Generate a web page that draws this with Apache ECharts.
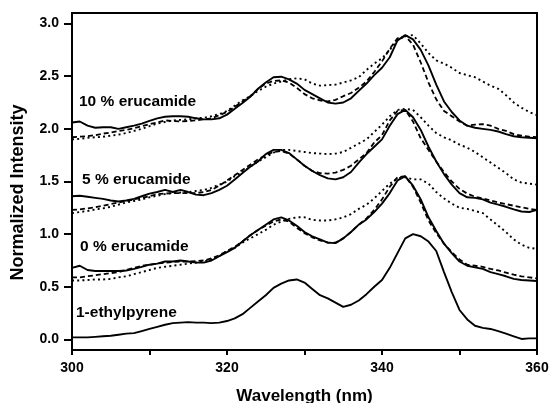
<!DOCTYPE html>
<html>
<head>
<meta charset="utf-8">
<script src="https://cdn.jsdelivr.net/npm/echarts@6/dist/echarts.min.js"></script>
<style>html,body{margin:0;padding:0;background:#fff;}#c{width:550px;height:403px;}</style>
</head>
<body>
<div id="c"></div>
<script>
// Wavelength grid (nm)
var wavelength = [];
for (var w = 300; w <= 360; w++) wavelength.push(w);

// 1-ethylpyrene (solid)
var ethylpyrene = [0.02,0.02,0.02,0.025,0.03,0.035,0.045,0.055,0.06,0.08,0.10,0.12,0.14,0.155,0.16,0.165,0.16,0.16,0.155,0.16,
  0.175,0.20,0.24,0.30,0.36,0.42,0.49,0.53,0.56,0.57,0.54,0.48,0.42,0.39,0.35,0.31,0.33,0.37,0.43,0.50,
  0.565,0.68,0.82,0.96,1.00,0.98,0.93,0.84,0.64,0.45,0.28,0.19,0.13,0.11,0.10,0.08,0.055,0.03,0.005,0.01,0.01];

// 0 % erucamide
var solid0 = [0.68,0.70,0.66,0.65,0.65,0.65,0.65,0.655,0.67,0.69,0.71,0.72,0.74,0.74,0.75,0.74,0.73,0.73,0.75,0.79,
  0.83,0.87,0.93,0.99,1.04,1.09,1.14,1.16,1.13,1.08,1.02,0.98,0.95,0.92,0.915,0.96,1.02,1.09,1.14,1.21,
  1.29,1.39,1.51,1.55,1.46,1.33,1.16,1.03,0.91,0.82,0.74,0.70,0.685,0.67,0.64,0.62,0.60,0.575,0.565,0.56,0.555];
var dashed0 = [0.59,0.59,0.60,0.61,0.62,0.63,0.64,0.66,0.68,0.70,0.71,0.72,0.73,0.735,0.74,0.74,0.745,0.75,0.77,0.80,
  0.84,0.88,0.93,0.99,1.04,1.08,1.12,1.14,1.12,1.06,1.01,0.97,0.94,0.92,0.92,0.96,1.02,1.09,1.15,1.23,
  1.33,1.45,1.54,1.55,1.45,1.30,1.13,1.01,0.91,0.83,0.76,0.71,0.70,0.69,0.67,0.655,0.635,0.615,0.60,0.59,0.58];
var dotted0 = [0.56,0.56,0.565,0.57,0.57,0.575,0.59,0.60,0.62,0.64,0.66,0.68,0.69,0.70,0.71,0.72,0.73,0.74,0.76,0.79,
  0.84,0.87,0.92,0.96,1.00,1.04,1.09,1.12,1.145,1.16,1.16,1.135,1.13,1.13,1.14,1.16,1.19,1.24,1.28,1.34,
  1.41,1.48,1.53,1.54,1.52,1.52,1.48,1.40,1.34,1.29,1.25,1.24,1.22,1.20,1.14,1.08,1.02,0.95,0.90,0.87,0.86];

// 5 % erucamide
var solid5 = [1.36,1.365,1.355,1.345,1.335,1.32,1.31,1.32,1.335,1.36,1.385,1.40,1.42,1.40,1.42,1.40,1.375,1.37,1.39,1.42,
  1.46,1.52,1.58,1.64,1.69,1.76,1.80,1.80,1.77,1.71,1.65,1.60,1.56,1.53,1.52,1.54,1.59,1.68,1.76,1.83,
  1.90,2.03,2.14,2.18,2.11,1.99,1.83,1.69,1.57,1.47,1.39,1.35,1.345,1.33,1.30,1.28,1.26,1.235,1.215,1.21,1.23];
var dashed5 = [1.23,1.235,1.245,1.255,1.27,1.285,1.30,1.315,1.33,1.345,1.36,1.38,1.385,1.39,1.39,1.39,1.39,1.40,1.42,1.46,
  1.51,1.56,1.61,1.66,1.71,1.75,1.78,1.79,1.765,1.71,1.65,1.60,1.58,1.575,1.585,1.61,1.65,1.71,1.77,1.87,
  1.94,2.08,2.17,2.18,2.07,1.91,1.80,1.69,1.59,1.50,1.43,1.385,1.355,1.34,1.32,1.30,1.285,1.27,1.255,1.24,1.23];
var dotted5 = [1.20,1.21,1.22,1.235,1.245,1.26,1.28,1.30,1.315,1.33,1.35,1.365,1.38,1.39,1.395,1.40,1.41,1.42,1.44,1.47,
  1.50,1.55,1.59,1.64,1.69,1.73,1.775,1.80,1.80,1.79,1.78,1.77,1.765,1.76,1.765,1.78,1.82,1.86,1.90,1.97,
  2.04,2.12,2.18,2.19,2.18,2.11,2.03,1.96,1.92,1.89,1.85,1.82,1.78,1.73,1.68,1.63,1.58,1.52,1.49,1.48,1.47];

// 10 % erucamide
var solid10 = [2.06,2.07,2.03,2.01,2.015,2.015,2.00,2.015,2.03,2.05,2.075,2.10,2.115,2.12,2.12,2.115,2.10,2.09,2.09,2.10,
  2.135,2.19,2.245,2.305,2.38,2.44,2.49,2.495,2.47,2.43,2.37,2.33,2.29,2.25,2.24,2.25,2.29,2.36,2.43,2.51,
  2.58,2.68,2.84,2.89,2.85,2.75,2.60,2.42,2.26,2.16,2.08,2.03,2.01,2.00,1.99,1.975,1.95,1.93,1.92,1.915,1.91];
var dashed10 = [1.92,1.925,1.93,1.94,1.955,1.965,1.98,1.99,2.005,2.025,2.045,2.06,2.08,2.075,2.07,2.075,2.08,2.09,2.10,2.13,
  2.16,2.21,2.26,2.31,2.38,2.43,2.455,2.46,2.44,2.39,2.33,2.29,2.27,2.26,2.275,2.31,2.34,2.39,2.45,2.54,
  2.64,2.76,2.86,2.88,2.80,2.63,2.44,2.28,2.17,2.12,2.07,2.03,2.04,2.045,2.03,2.00,1.98,1.95,1.935,1.925,1.92];
var dotted10 = [1.90,1.905,1.915,1.92,1.925,1.935,1.945,1.96,1.98,2.00,2.025,2.05,2.065,2.08,2.085,2.09,2.10,2.105,2.12,2.14,
  2.17,2.22,2.27,2.31,2.36,2.40,2.43,2.45,2.47,2.48,2.47,2.43,2.41,2.415,2.42,2.44,2.46,2.49,2.56,2.62,
  2.67,2.75,2.84,2.88,2.89,2.81,2.72,2.65,2.62,2.58,2.53,2.51,2.49,2.45,2.41,2.38,2.32,2.25,2.20,2.16,2.13];

var yTicks = [0, 0.5, 1.0, 1.5, 2.0, 2.5, 3.0];
var groupLabels = ['10 % erucamide', '5 % erucamide', '0 % erucamide', '1-ethylpyrene'];

function pairs(arr) { return wavelength.map(function (x, i) { return [x, arr[i]]; }); }
var FONT = '"Liberation Sans", Arial, Helvetica, sans-serif';
function line(name, arr, type) {
  var ls = { color: '#000', width: 1.9 };
  if (type === 'dashed') { ls.type = [5, 3]; ls.width = 1.8; }
  if (type === 'dotted') { ls.type = [2, 3.2]; ls.width = 1.9; ls.cap = 'butt'; }
  return { name: name, type: 'line', data: pairs(arr), showSymbol: false, symbol: 'none',
    lineStyle: ls, silent: true, z: 3 };
}

var chart = echarts.init(document.getElementById('c'), null, { renderer: 'canvas' });
chart.setOption({
  animation: false,
  backgroundColor: '#fff',
  grid: { left: 72, right: 13, top: 13, bottom: 53, containLabel: false, outerBoundsMode: 'none',
    show: true, borderColor: '#000', borderWidth: 2, backgroundColor: 'transparent' },
  xAxis: {
    type: 'value', min: 300, max: 360, interval: 10,
    name: 'Wavelength (nm)', nameLocation: 'middle', nameGap: 38,
    nameTextStyle: { fontFamily: FONT, fontWeight: 'bold', fontSize: 17, color: '#000' },
    axisLine: { show: true, onZero: false, lineStyle: { color: '#000', width: 2 } },
    axisTick: { show: true, inside: false, length: 5, lineStyle: { color: '#000', width: 2 } },
    axisLabel: { margin: 11, fontFamily: FONT, fontWeight: 'bold', fontSize: 14, color: '#000',
      formatter: function (v) { return v % 20 === 0 ? String(v) : ''; } },
    splitLine: { show: false }
  },
  yAxis: {
    type: 'value', min: -0.1, max: 3.1,
    name: 'Normalized Intensity', nameLocation: 'middle', nameGap: 45,
    nameTextStyle: { fontFamily: FONT, fontWeight: 'bold', fontSize: 18, color: '#000', padding: [0, 22, 0, 0] },
    axisLine: { show: true, onZero: false, lineStyle: { color: '#000', width: 2 } },
    axisTick: { show: true, length: 8, customValues: yTicks, lineStyle: { color: '#000', width: 2 } },
    axisLabel: { margin: 13, customValues: yTicks, fontFamily: FONT, fontWeight: 'bold', fontSize: 14, color: '#000',
      formatter: function (v) { return Number(v).toFixed(1); } },
    splitLine: { show: false }
  },
  series: [
    line('1-ethylpyrene', ethylpyrene, 'solid'),
    line('0 % solid', solid0, 'solid'),
    line('0 % dashed', dashed0, 'dashed'),
    line('0 % dotted', dotted0, 'dotted'),
    line('5 % solid', solid5, 'solid'),
    line('5 % dashed', dashed5, 'dashed'),
    line('5 % dotted', dotted5, 'dotted'),
    line('10 % solid', solid10, 'solid'),
    line('10 % dashed', dashed10, 'dashed'),
    line('10 % dotted', dotted10, 'dotted')
  ],
  graphic: [
    { type: 'text', left: 79, top: 94, style: { text: groupLabels[0], font: 'bold 15.5px ' + FONT, fill: '#000' }, z: 10 },
    { type: 'text', left: 82, top: 172, style: { text: groupLabels[1], font: 'bold 15.5px ' + FONT, fill: '#000' }, z: 10 },
    { type: 'text', left: 80, top: 239, style: { text: groupLabels[2], font: 'bold 15.5px ' + FONT, fill: '#000' }, z: 10 },
    { type: 'text', left: 76, top: 305, style: { text: groupLabels[3], font: 'bold 15.5px ' + FONT, fill: '#000' }, z: 10 }
  ]
});
</script>
</body>
</html>
